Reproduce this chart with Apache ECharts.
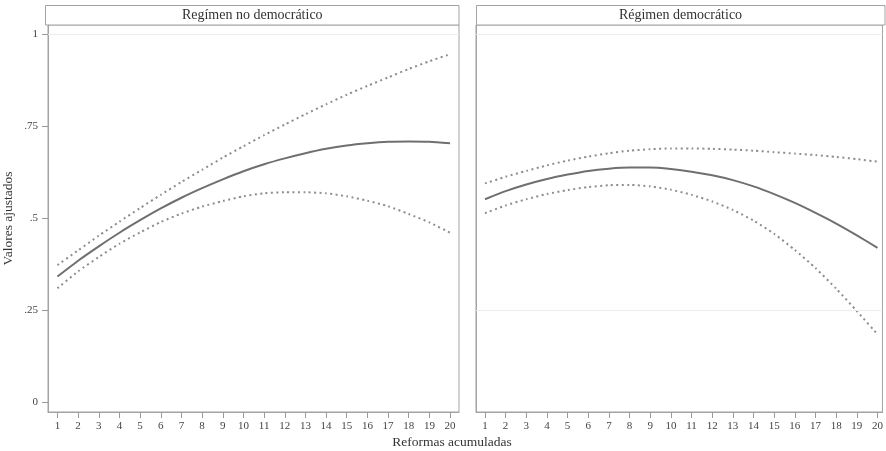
<!DOCTYPE html>
<html>
<head>
<meta charset="utf-8">
<script src="https://cdn.jsdelivr.net/npm/echarts@6/dist/echarts.min.js"></script>
<style>
html,body{margin:0;padding:0;background:#fff;}
#chart{width:886px;height:451px;}
</style>
</head>
<body>
<div id="chart"></div>
<script>
const categories = [1,2,3,4,5,6,7,8,9,10,11,12,13,14,15,16,17,18,19,20];
const panelTitles = ['Regímen no democrático', 'Régimen democrático'];
const xTitle = 'Reformas acumuladas';
const yTitle = 'Valores ajustados';
const yTickValues = [0, 0.25, 0.5, 0.75, 1];
const yTickLabels = ['0', '.25', '.5', '.75', '1'];
const gridLineValuesLeft = [1];
const gridLineValuesRight = [1, 0.25];

// Regímen no democrático
const nondemMean  = [0.341,0.384,0.423,0.460,0.494,0.526,0.555,0.581,0.605,0.627,0.646,0.662,0.676,0.688,0.697,0.703,0.707,0.708,0.707,0.703];
const nondemUpper = [0.372,0.412,0.452,0.490,0.527,0.563,0.598,0.631,0.664,0.695,0.725,0.754,0.782,0.809,0.835,0.859,0.882,0.905,0.926,0.945];
const nondemLower = [0.309,0.355,0.394,0.430,0.461,0.489,0.512,0.531,0.546,0.559,0.567,0.570,0.570,0.567,0.559,0.547,0.532,0.511,0.488,0.460];

// Régimen democrático
const demMean  = [0.551,0.573,0.591,0.606,0.618,0.628,0.634,0.637,0.637,0.633,0.626,0.616,0.603,0.586,0.565,0.541,0.514,0.485,0.453,0.419];
const demUpper = [0.594,0.612,0.628,0.643,0.656,0.667,0.676,0.683,0.687,0.689,0.689,0.688,0.686,0.683,0.679,0.675,0.671,0.666,0.660,0.653];
const demLower = [0.513,0.534,0.551,0.565,0.576,0.584,0.589,0.590,0.586,0.577,0.563,0.545,0.522,0.493,0.457,0.413,0.364,0.308,0.247,0.184];

const FONT = '"Liberation Serif", "DejaVu Serif", serif';
const FRAME = '#a3a3a3';
const SOLID = '#6f6f6f';
const DOT = '#8e8e8e';

function pairs(arr){ return categories.map((x,i)=>[x, arr[i]]); }

const chart = echarts.init(document.getElementById('chart'), null, {renderer:'canvas'});

function xAxisDef(gridIndex, min, max){
  return {
    type:'value', gridIndex, min, max, position:'bottom',
    axisLine:{show:true, onZero:false, lineStyle:{color:FRAME, width:1}},
    splitLine:{show:false},
    axisTick:{show:true, inside:false, length:6, lineStyle:{color:'#999', width:1}, customValues: categories},
    axisLabel:{show:true, margin:9, fontFamily:FONT, fontSize:11, color:'#444', customValues: categories},
  };
}
function yAxisDef(gridIndex, showLabels){
  return {
    type:'value', gridIndex, min:-0.0272, max:1.0245, position:'left',
    axisLine:{show:true, onZero:false, lineStyle:{color:FRAME, width:1}},
    splitLine:{show:false},
    axisTick:{show:showLabels, inside:false, length:6, lineStyle:{color:'#999', width:1}, customValues: yTickValues},
    axisLabel:{show:showLabels, margin:10, fontFamily:FONT, fontSize:11, color:'#444', customValues: yTickValues,
      formatter:(v)=>{ const i = yTickValues.findIndex(t=>Math.abs(t-v)<1e-9); return i>=0 ? yTickLabels[i] : ''; }},
    name: showLabels ? yTitle : '',
    nameLocation:'middle', nameGap:33, nameRotate:90,
    nameTextStyle:{fontFamily:FONT, fontSize:13.5, color:'#333'}
  };
}

function lineSeries(data, gi, dotted, gridVals){
  const s = {
    type:'line', xAxisIndex:gi, yAxisIndex:gi, data: pairs(data),
    showSymbol:false, symbol:'none', smooth:0.2, silent:true, animation:false,
    lineStyle: dotted ? {color:DOT, width:2, type:[2,3.4]} : {color:SOLID, width:2}
  };
  if (gridVals){
    s.markLine = {silent:true, symbol:'none', label:{show:false}, animation:false,
      lineStyle:{color:'#ececec', width:1, type:'solid'},
      data: gridVals.map(v=>({yAxis:v}))};
  }
  return s;
}

const option = {
  backgroundColor:'#fff',
  animation:false,
  grid:[
    {left:45.5, top:25, width:413.5, height:387, show:true, borderColor:FRAME, borderWidth:1, backgroundColor:'transparent', containLabel:false},
    {left:476, top:25, width:409, height:387, show:true, borderColor:FRAME, borderWidth:1, backgroundColor:'transparent', containLabel:false}
  ],
  xAxis:[ xAxisDef(0, 0.543, 20.432), xAxisDef(1, 0.567, 20.24) ],
  yAxis:[ yAxisDef(0, true), yAxisDef(1, false) ],
  series:[
    lineSeries(nondemUpper, 0, true, gridLineValuesLeft),
    lineSeries(nondemLower, 0, true),
    lineSeries(nondemMean, 0, false),
    lineSeries(demUpper, 1, true, gridLineValuesRight),
    lineSeries(demLower, 1, true),
    lineSeries(demMean, 1, false)
  ],
  graphic:[
    {type:'rect', shape:{x:45.5, y:5.5, width:413.5, height:19.5}, style:{fill:'#fff', stroke:FRAME, lineWidth:1}, silent:true},
    {type:'text', x:252.25, y:15.5, style:{text:panelTitles[0], align:'center', verticalAlign:'middle', font:'14px '+FONT, fill:'#333'}, silent:true},
    {type:'rect', shape:{x:476.5, y:5.5, width:408.5, height:19.5}, style:{fill:'#fff', stroke:FRAME, lineWidth:1}, silent:true},
    {type:'text', x:680.5, y:15.5, style:{text:panelTitles[1], align:'center', verticalAlign:'middle', font:'14px '+FONT, fill:'#333'}, silent:true},
    {type:'text', x:452, y:442, style:{text:xTitle, align:'center', verticalAlign:'middle', font:'13.5px '+FONT, fill:'#333'}, silent:true}
  ]
};
chart.setOption(option);
</script>
</body>
</html>
